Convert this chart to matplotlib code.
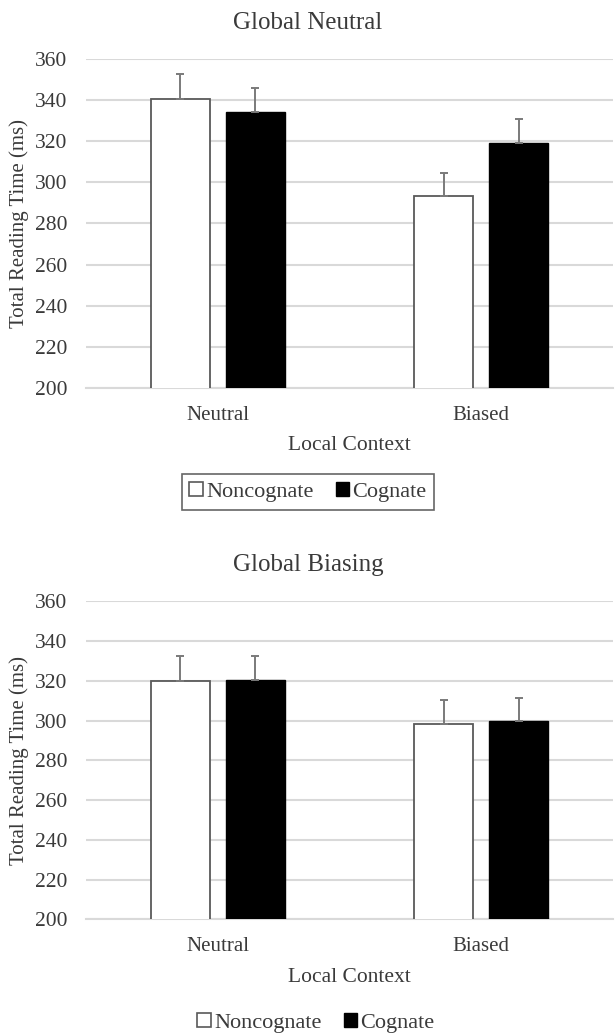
import numpy as np
import matplotlib
matplotlib.use("Agg")
from matplotlib import pyplot as plt
from matplotlib.patches import Patch

plt.rcParams['font.family'] = ['Liberation Serif', 'DejaVu Serif']

contexts = ['Neutral', 'Biased']
series = ['Noncognate', 'Cognate']

# global neutral condition
gn_noncog = [340.8, 293.2]
gn_noncog_err = [11.8, 11.5]
gn_cog = [334.3, 319.2]
gn_cog_err = [11.9, 11.8]

# global biasing condition
gb_noncog = [320.0, 298.5]
gb_noncog_err = [12.4, 11.8]
gb_cog = [320.5, 299.7]
gb_cog_err = [12.2, 11.7]

yticks = [200, 220, 240, 260, 280, 300, 320, 340, 360]

TEXT = '#3a3a3a'
GRID = '#d9d9d9'
EDGE = '#595959'
ERR = '#7a7a7a'


def _draw_panel(ax, noncog, noncog_err, cog, cog_err):
    x = np.arange(len(contexts))
    w = 0.224
    off = 0.142
    ax.bar(x - off, noncog, w, color='white', edgecolor=EDGE, linewidth=1.3, zorder=3)
    ax.bar(x + off, cog, w, color='black', edgecolor='black', linewidth=1.0, zorder=3)
    ax.errorbar(x - off, noncog, yerr=[np.zeros(len(noncog)), noncog_err],
                fmt='none', ecolor=ERR, elinewidth=1.4, capsize=3, capthick=1.4, zorder=4)
    ax.errorbar(x + off, cog, yerr=[np.zeros(len(cog)), cog_err],
                fmt='none', ecolor=ERR, elinewidth=1.4, capsize=3, capthick=1.4, zorder=4)
    ax.set_xlim(-0.5, 1.5)
    ax.set_ylim(200, 360)
    ax.set_yticks(yticks)
    ax.set_xticks(x)
    ax.set_xticklabels(contexts)
    ax.yaxis.grid(True, color=GRID, linewidth=1.5, zorder=0)
    ax.set_axisbelow(True)
    for s in ['top', 'right', 'left']:
        ax.spines[s].set_visible(False)
    ax.spines['bottom'].set_color(GRID)
    ax.spines['bottom'].set_linewidth(1.5)
    ax.tick_params(axis='both', length=0, labelsize=15.5, labelcolor=TEXT)
    ax.tick_params(axis='x', labelsize=15, pad=13)
    ax.tick_params(axis='y', pad=13.5)
    ax.set_ylabel('Total Reading Time (ms)', fontsize=15, color=TEXT)
    ax.yaxis.set_label_coords(-0.108, 0.5)
    ax.set_xlabel('Local Context', fontsize=15.5, color=TEXT, labelpad=8)


fig = plt.figure(figsize=(6.16, 10.36), dpi=100)

ax1 = fig.add_axes([0.1396, 0.6258, 0.8555, 0.317])
_draw_panel(ax1, gn_noncog, gn_noncog_err, gn_cog, gn_cog_err)
fig.text(0.5, 0.978, 'Global Neutral', ha='center', va='center', fontsize=18, color=TEXT)

ax2 = fig.add_axes([0.1396, 0.1126, 0.8555, 0.307])
_draw_panel(ax2, gb_noncog, gb_noncog_err, gb_cog, gb_cog_err)
fig.text(0.5, 0.4546, 'Global Biasing', ha='center', va='center', fontsize=18, color=TEXT)

handles = [Patch(facecolor='white', edgecolor=EDGE, linewidth=1.2),
           Patch(facecolor='black', edgecolor='black')]

leg1 = fig.legend(handles, series, loc='center', bbox_to_anchor=(0.5, 0.525), ncol=2,
                  fontsize=16, frameon=True, fancybox=False, handlelength=0.6,
                  handleheight=0.6, handletextpad=0.15, columnspacing=1.0,
                  borderpad=0.35, labelcolor=TEXT)
leg1.get_frame().set_edgecolor('#404040')
leg1.get_frame().set_linewidth(1.2)

fig.legend(handles, series, loc='center', bbox_to_anchor=(0.513, 0.0125), ncol=2,
           fontsize=16, frameon=False, handlelength=0.6, handleheight=0.6,
           handletextpad=0.15, columnspacing=1.0, labelcolor=TEXT)

fig.savefig('out.png', dpi=100)
